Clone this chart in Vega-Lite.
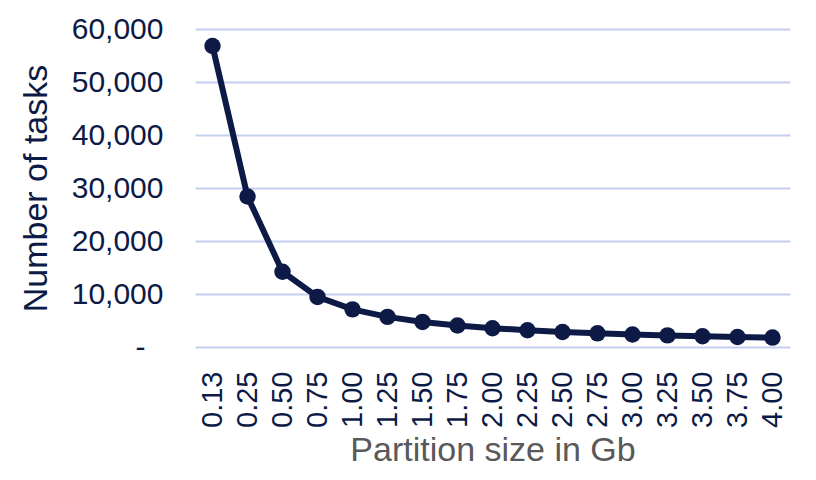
{
  "$schema": "https://vega.github.io/schema/vega-lite/v6.json",
  "width": 595,
  "height": 318,
  "autosize": {"type": "none"},
  "padding": {"left": 195, "top": 29, "right": 26, "bottom": 133},
  "background": "white",
  "config": {
    "view": {"stroke": null},
    "font": "Liberation Sans"
  },
  "data": {
    "values": [
      {"size": "0.13", "tasks": 56800},
      {"size": "0.25", "tasks": 28400},
      {"size": "0.50", "tasks": 14200},
      {"size": "0.75", "tasks": 9450},
      {"size": "1.00", "tasks": 7100},
      {"size": "1.25", "tasks": 5680},
      {"size": "1.50", "tasks": 4730},
      {"size": "1.75", "tasks": 4060},
      {"size": "2.00", "tasks": 3550},
      {"size": "2.25", "tasks": 3160},
      {"size": "2.50", "tasks": 2840},
      {"size": "2.75", "tasks": 2580},
      {"size": "3.00", "tasks": 2370},
      {"size": "3.25", "tasks": 2190},
      {"size": "3.50", "tasks": 2030},
      {"size": "3.75", "tasks": 1890},
      {"size": "4.00", "tasks": 1780}
    ]
  },
  "encoding": {
    "x": {
      "field": "size",
      "type": "ordinal",
      "sort": null,
      "scale": {"type": "point", "padding": 0.5},
      "axis": {
        "title": "Partition size in Gb",
        "titleFont": "Liberation Sans",
        "titleFontSize": 34,
        "titleFontWeight": "normal",
        "titleColor": "#595959",
        "titlePadding": 6,
        "labelAngle": -90,
        "labelFontSize": 29,
        "labelColor": "#0c1a45",
        "labelPadding": 24,
        "domain": false,
        "ticks": false,
        "grid": false
      }
    },
    "y": {
      "field": "tasks",
      "type": "quantitative",
      "scale": {"domain": [0, 60000], "nice": false},
      "axis": {
        "title": "Number of tasks",
        "titleFontSize": 34,
        "titleFontWeight": "normal",
        "titleColor": "#0c1a45",
        "titlePadding": 18,
        "values": [0, 10000, 20000, 30000, 40000, 50000, 60000],
        "labelExpr": "datum.value == 0 ? '-' : format(datum.value, ',')",
        "labelFontSize": 30,
        "labelColor": "#0c1a45",
        "labelPadding": {"condition": {"test": "datum.value == 0", "value": 50}, "value": 32},
        "domain": false,
        "ticks": false,
        "grid": true,
        "gridColor": "#c3cff0",
        "gridWidth": 2
      }
    }
  },
  "layer": [
    {
      "mark": {"type": "line", "color": "#0c1a45", "strokeWidth": 6}
    },
    {
      "mark": {"type": "point", "filled": true, "opacity": 1, "color": "#0c1a45", "size": 270}
    }
  ]
}
